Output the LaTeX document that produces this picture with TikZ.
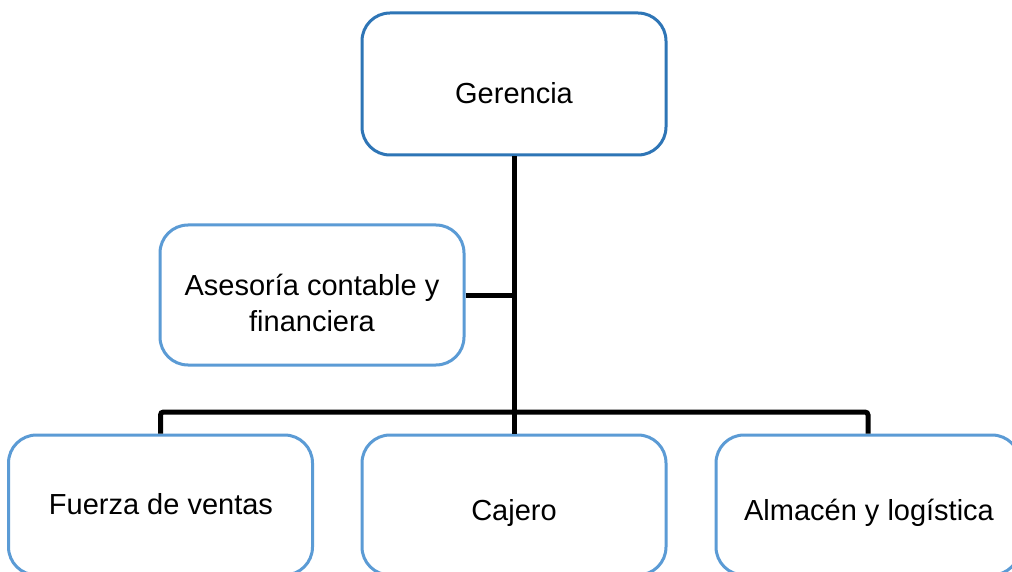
\documentclass[tikz,border=0pt]{standalone}
\usepackage{fontspec}
\setmainfont{Liberation Sans}
\definecolor{topblue}{HTML}{2E75B6}
\definecolor{boxblue}{HTML}{5B9BD5}
\tikzset{
  orgbox/.style={draw=boxblue, line width=3pt, rounded corners=28pt, fill=white,
    minimum width=304pt, minimum height=140pt, inner sep=0pt},
  orgtext/.style={anchor=base, inner sep=0pt, font=\fontsize{29}{37}\selectfont},
  link/.style={line width=5pt, draw=black}
}
\begin{document}
\begin{tikzpicture}[x=1pt,y=-1pt]
\clip (0,0) rectangle (1012,572);
\useasboundingbox (0,0) rectangle (1012,572);
\fill[white] (0,0) rectangle (1012,572);
\node[orgbox, draw=topblue, minimum height=142pt] (ger) at (514,84) {};
\node[orgbox] (ase) at (312,295) {};
\node[orgbox] (fue) at (160.5,505) {};
\node[orgbox] (caj) at (514,505) {};
\node[orgbox] (alm) at (868,505) {};
\node[orgtext] (gert) at (514,104) {Gerencia};
\node[orgtext] (aset1) at (312,295) {Asesoría contable y};
\node[orgtext] (aset2) at (312,331) {financiera};
\node[orgtext] (fuet) at (161,514) {Fuerza de ventas};
\node[orgtext] (cajt) at (514,520) {Cajero};
\node[orgtext] (almt) at (869,520.5) {Almacén y logística};
\coordinate (bus) at (514,412);
\draw[link] (ger.south) -- (bus);
\draw[link] (ase.east) -- (ase.east -| bus);
\draw[link, rounded corners=3pt] (fue.north) |- (bus) -| (alm.north);
\draw[link] (bus) -- (caj.north);
\end{tikzpicture}
\end{document}
